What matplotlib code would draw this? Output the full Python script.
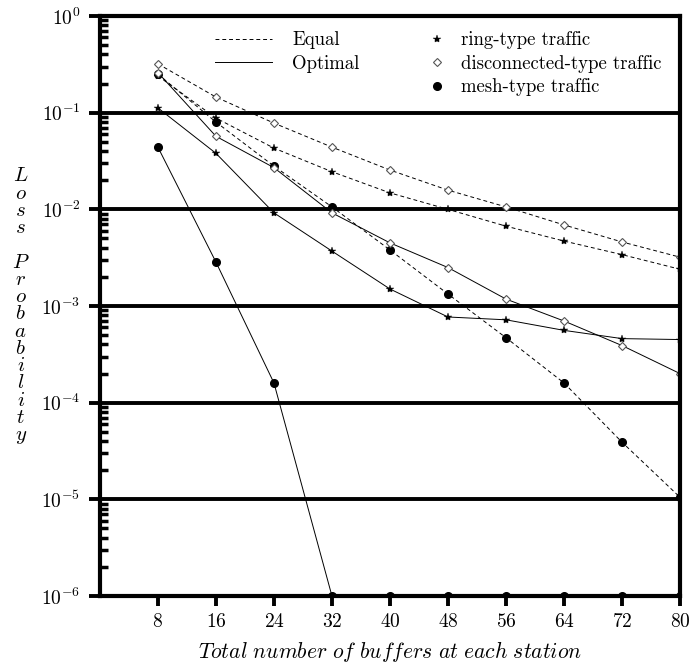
import math
import matplotlib
matplotlib.use("Agg")
import matplotlib.pyplot as plt
from matplotlib.lines import Line2D
from matplotlib.ticker import FixedLocator, FuncFormatter, NullFormatter

plt.rcParams['font.family'] = ['cmr10', 'DejaVu Serif']
plt.rcParams['mathtext.fontset'] = 'cm'
plt.rcParams['axes.formatter.use_mathtext'] = True

buffers = [8, 16, 24, 32, 40, 48, 56, 64, 72, 80]

# Equal allocation
ring_equal = [0.24, 0.088, 0.043, 0.0245, 0.0148, 0.0100, 0.0067, 0.0047, 0.0034, 0.0024]
disc_equal = [0.32, 0.145, 0.078, 0.044, 0.0255, 0.0158, 0.0106, 0.0069, 0.0046, 0.0032]
mesh_equal = [0.25, 0.080, 0.028, 0.0106, 0.0038, 0.00133, 0.00047, 0.00016, 3.9e-5, 1.05e-5]

# Optimal allocation
ring_opt = [0.112, 0.038, 0.0092, 0.0037, 0.0015, 0.00077, 0.00072, 0.00056, 0.00046, 0.00045]
disc_opt = [0.26, 0.057, 0.027, 0.0092, 0.0045, 0.0025, 0.00118, 0.0007, 0.00039, 0.0002]
mesh_opt = [0.044, 0.00285, 0.00016, 1e-6, 1e-6, 1e-6, 1e-6, 1e-6, 1e-6, 1e-6]

decades = [1e-6, 1e-5, 1e-4, 1e-3, 1e-2, 1e-1, 1]

fig = plt.figure(figsize=(6.89, 6.67), dpi=100)
ax = fig.add_axes([0.145, 0.1064, 0.842, 0.8696])

dash = (0, (4, 3))
lw = 0.7
star = dict(marker='*', markersize=6, color='black', markeredgewidth=0.3)
diam = dict(marker='D', markersize=4.5, markerfacecolor='white', markeredgecolor='#555555', markeredgewidth=0.8, color='black')
dot = dict(marker='o', markersize=5.5, color='black')

ax.plot(buffers, disc_equal, linestyle=dash, linewidth=lw, **diam)
ax.plot(buffers, ring_equal, linestyle=dash, linewidth=lw, **star)
ax.plot(buffers, mesh_equal, linestyle=dash, linewidth=lw, **dot)
ax.plot(buffers, disc_opt, linestyle='-', linewidth=lw, **diam)
ax.plot(buffers, ring_opt, linestyle='-', linewidth=lw, **star)
ax.plot(buffers, mesh_opt, linestyle='-', linewidth=lw, **dot)

ax.set_yscale('log')
ax.set_xlim(0, 80)
ax.set_ylim(1e-6, 1)

ax.xaxis.set_major_locator(FixedLocator(buffers))
ax.tick_params(axis='x', direction='out', length=7, width=2.8, labelsize=14, pad=5)
ax.yaxis.set_major_locator(FixedLocator(decades))
minors = [m * d for d in decades[:-1] for m in range(2, 10)]
ax.yaxis.set_minor_locator(FixedLocator(minors))
ax.yaxis.set_minor_formatter(NullFormatter())
ax.yaxis.set_major_formatter(FuncFormatter(lambda v, p: r'$10^{%d}$' % round(math.log10(v))))
ax.tick_params(axis='y', which='major', direction='out', length=8, width=2.8, labelsize=14, pad=6)
ax.tick_params(axis='y', which='minor', direction='in', length=6, width=2.5)
ax.grid(True, axis='y', which='major', color='black', linewidth=2.8)
for s in ax.spines.values():
    s.set_linewidth(3)

ax.set_xlabel(r'$Total\ number\ of\ buffers\ at\ each\ station$', fontsize=15.5, labelpad=6)
ylabel = '\n'.join('$%s$' % c if c != ' ' else ' ' for c in 'Loss Probability')
fig.text(0.03, 0.54, ylabel, fontsize=15, ha='center', va='center', linespacing=0.95)

h1 = [Line2D([], [], color='black', linewidth=lw, linestyle=dash),
      Line2D([], [], color='black', linewidth=lw)]
leg1 = ax.legend(h1, ['Equal', 'Optimal'], loc='upper left', bbox_to_anchor=(0.17, 1.003),
                 frameon=False, fontsize=13.5, handlelength=3.0, handletextpad=1.1, labelspacing=0.3)
ax.add_artist(leg1)
h2 = [Line2D([], [], linestyle='none', **star),
      Line2D([], [], linestyle='none', **diam),
      Line2D([], [], linestyle='none', **dot)]
ax.legend(h2, ['ring-type traffic', 'disconnected-type traffic', 'mesh-type traffic'],
          loc='upper left', bbox_to_anchor=(0.535, 1.003), frameon=False, fontsize=13.5,
          handlelength=1.0, handletextpad=0.8, labelspacing=0.3)

fig.savefig('out.png', dpi=100)
